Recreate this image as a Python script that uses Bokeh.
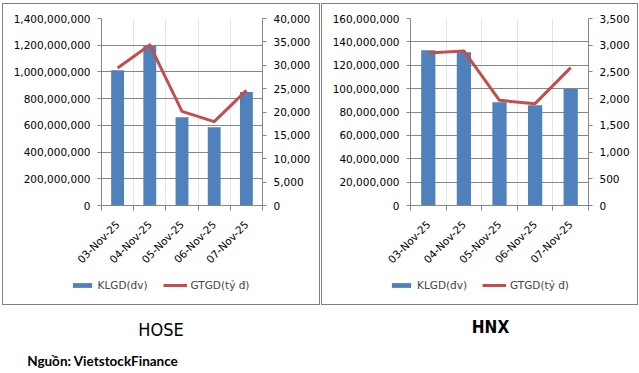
import math
from bokeh.plotting import figure
from bokeh.models import (Range1d, LinearAxis, FixedTicker, SingleIntervalTicker,
                          NumeralTickFormatter, Legend, LegendItem, Label, Grid, Spacer)
from bokeh.layouts import column, row
from bokeh.embed import file_html
from bokeh.resources import INLINE

# ---- data ----
dates = ["03-Nov-25", "04-Nov-25", "05-Nov-25", "06-Nov-25", "07-Nov-25"]
hose_klgd = [1012e6, 1197e6, 660e6, 585e6, 850e6]
hose_gtgd = [29420, 34350, 20140, 17930, 24640]
hnx_klgd = [132.8e6, 131.1e6, 88.3e6, 85.7e6, 99.7e6]
hnx_gtgd = [2855, 2893, 1968, 1906, 2581]
series_names = ["KLGD(đv)", "GTGD(tỷ đ)"]
titles = ["HOSE", "HNX"]
source_text = "Nguồn: VietstockFinance"

BAR = "#4F81BD"
LINE = "#C0504D"
AX = "#868686"
BORDER = "1px solid #808080"
FONT = "DejaVu Sans"
FS = "10.5px"


def make_chart(klgd, gtgd, y_max, y_step, y2_max, y2_step, width, bl, br, lbl, lbr):
    n = len(dates)
    xs = [i + 0.5 for i in range(n)]
    p = figure(width=width, height=270, x_range=Range1d(0, n), y_range=Range1d(0, y_max),
               output_backend="svg", toolbar_location=None,
               x_axis_location=None, y_axis_location=None,
               min_border_left=bl, min_border_right=br, min_border_top=14, min_border_bottom=69,
               outline_line_color=None, background_fill_color="white", border_fill_color="white")
    p.frame_align = False
    p.styles = {"border-top": BORDER, "border-left": BORDER, "border-right": BORDER,
                "box-sizing": "border-box"}
    p.extra_y_ranges = {"v": Range1d(0, y2_max)}

    yt = SingleIntervalTicker(interval=y_step, num_minor_ticks=0)
    ya = LinearAxis(ticker=yt, formatter=NumeralTickFormatter(format="0,0"))
    y2a = LinearAxis(y_range_name="v", ticker=SingleIntervalTicker(interval=y2_step, num_minor_ticks=0),
                     formatter=NumeralTickFormatter(format="0,0"))
    for a in (ya, y2a):
        a.axis_line_color = AX
        a.major_tick_line_color = AX
        a.major_tick_out = 4
        a.major_tick_in = 0
        a.minor_tick_line_color = None
        a.major_label_standoff = 7
        a.major_label_text_font = FONT
        a.major_label_text_font_size = FS
        a.major_label_text_color = "black"
    p.add_layout(ya, "left")
    p.add_layout(y2a, "right")

    xa = LinearAxis(ticker=FixedTicker(ticks=xs, minor_ticks=list(range(n + 1))),
                    major_label_overrides={x: d for x, d in zip(xs, dates)})
    xa.axis_line_color = AX
    xa.major_tick_line_color = None
    xa.major_tick_out = 0
    xa.major_tick_in = 0
    xa.minor_tick_line_color = AX
    xa.minor_tick_out = 5
    xa.minor_tick_in = 0
    xa.major_label_orientation = math.pi / 4
    xa.major_label_standoff = 12
    xa.major_label_text_font = FONT
    xa.major_label_text_font_size = FS
    xa.major_label_text_color = "black"
    p.add_layout(xa, "below")

    p.add_layout(Grid(dimension=1, ticker=yt, grid_line_color=AX, grid_line_width=1))

    p.vbar(x=xs, top=klgd, width=0.4, fill_color=BAR, line_color=None)
    p.line(x=xs, y=gtgd, y_range_name="v", line_color=LINE, line_width=3, line_join="round")

    # legend strip: same series, hidden renderers (only the legend shows)
    lg = figure(width=width, height=32, x_range=Range1d(0, n), y_range=Range1d(2 * y_max, 3 * y_max),
                output_backend="svg", toolbar_location=None,
                x_axis_location=None, y_axis_location=None,
                min_border_left=lbl, min_border_right=lbr, min_border_top=0, min_border_bottom=8,
                outline_line_color=None, background_fill_color="white", border_fill_color="white")
    lg.frame_align = False
    lg.grid.visible = False
    lg.styles = {"border-bottom": BORDER, "border-left": BORDER, "border-right": BORDER,
                 "box-sizing": "border-box"}
    lb = lg.vbar(x=xs, top=klgd, width=0.4, fill_color=BAR, line_color=None)
    ll = lg.line(x=xs, y=gtgd, line_color=LINE, line_width=3)
    lb.visible = False
    ll.visible = False
    legend = Legend(items=[LegendItem(label=series_names[0], renderers=[lb]),
                           LegendItem(label=series_names[1], renderers=[ll])],
                    orientation="horizontal", location="center", click_policy="none",
                    inactive_fill_alpha=0,
                    glyph_width=24, glyph_height=6, label_standoff=4, spacing=15,
                    padding=0, margin=0, border_line_color=None, background_fill_alpha=0,
                    label_text_font=FONT, label_text_font_size=FS, label_height=20)
    lg.add_layout(legend, "center")
    return column(p, lg, spacing=0)


c1 = make_chart(hose_klgd, hose_gtgd, 1.4e9, 2e8, 40000, 5000, 318, 98, 59, 38, 43)
c2 = make_chart(hnx_klgd, hnx_gtgd, 160e6, 20e6, 3500, 500, 317, 88, 51, 38, 41)

pb = figure(width=639, height=68, x_range=Range1d(0, 639), y_range=Range1d(0, 68),
            output_backend="svg", toolbar_location=None, x_axis_location=None, y_axis_location=None,
            min_border=0, outline_line_color=None)
pb.frame_align = False
pb.grid.visible = False
TFONT = "DejaVu Sans Condensed, Liberation Sans"
pb.add_layout(Label(x=160.5, y=43.7, x_units="screen", y_units="screen", text=titles[0],
                    text_align="center", text_baseline="alphabetic",
                    text_font=TFONT, text_font_size="18px", text_color="black"))
pb.add_layout(Label(x=490, y=47, x_units="screen", y_units="screen", text=titles[1],
                    text_align="center", text_baseline="alphabetic",
                    text_font=TFONT, text_font_style="bold",
                    text_font_size="17px", text_color="black"))
pb.add_layout(Label(x=26.7, y=13, x_units="screen", y_units="screen", text=source_text,
                    text_align="left", text_baseline="alphabetic",
                    text_font="Lato", text_font_style="bold", text_font_size="13.5px",
                    text_color="black"))

layout = column(Spacer(width=639, height=3),
                row(Spacer(width=2, height=302), c1, Spacer(width=1, height=302), c2, spacing=0),
                pb, spacing=0)
open("out.html", "w").write(file_html(layout, INLINE))
